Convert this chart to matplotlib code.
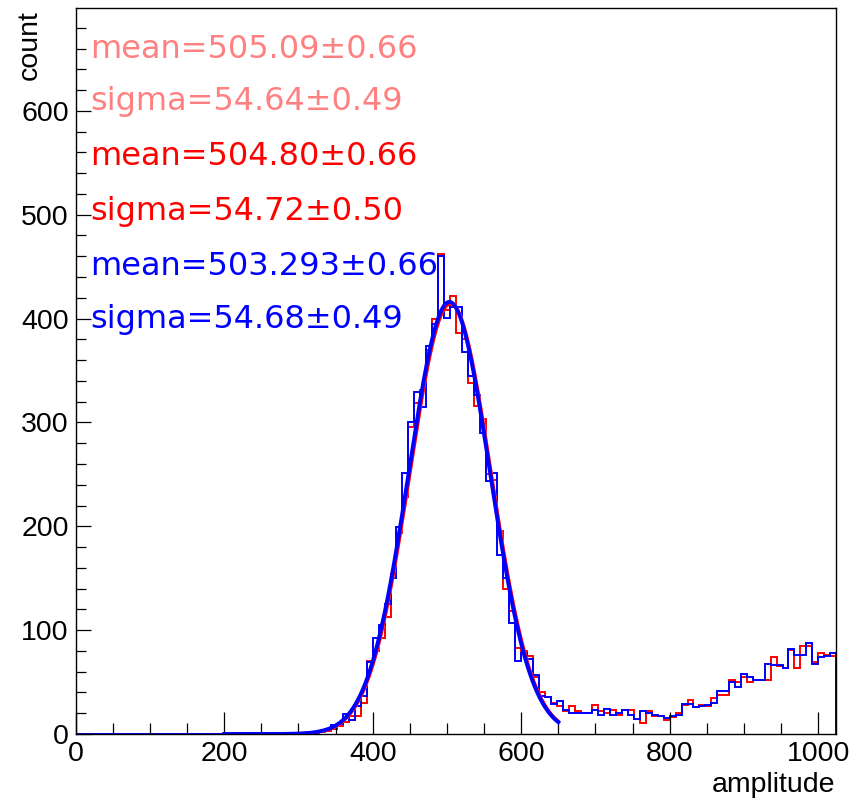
import numpy as np
import matplotlib
matplotlib.use("Agg")
import matplotlib.pyplot as plt
from matplotlib.ticker import MultipleLocator

# histogram binning: 128 bins over 0..1024
bin_edges = np.arange(0, 1025, 8)

# bin contents (bins 0..127)
red_counts = [0] * 38 + [
    0, 1, 1, 2, 3, 5, 8, 12, 17, 17,
    30, 70, 80, 92, 113, 154, 194, 228, 296, 319,
    331, 370, 400, 462, 408, 422, 386, 380, 338, 316,
    303, 250, 245, 195, 140, 118, 83, 80, 75, 55,
    40, 36, 30, 27, 22, 27, 22, 20, 20, 28,
    22, 20, 23, 18, 23, 23, 14, 11, 22, 17,
    17, 13, 16, 20, 28, 33, 26, 28, 27, 35,
    38, 38, 52, 50, 55, 50, 52, 52, 52, 74,
    65, 64, 81, 64, 85, 85, 69, 78, 76, 75]

blue_counts = [0] * 38 + [
    1, 1, 2, 3, 5, 9, 10, 19, 13, 27,
    37, 69, 92, 105, 125, 150, 199, 251, 300, 329,
    315, 374, 395, 460, 401, 411, 411, 368, 345, 326,
    290, 244, 251, 172, 150, 107, 70, 78, 72, 57,
    37, 36, 29, 32, 23, 20, 20, 20, 20, 23,
    18, 24, 18, 20, 23, 18, 14, 22, 20, 18,
    17, 15, 17, 18, 29, 29, 26, 27, 28, 30,
    41, 41, 50, 45, 58, 55, 52, 52, 67, 66,
    66, 64, 82, 76, 76, 88, 67, 74, 75, 78]

# gaussian fit results (amplitude, mean, sigma), fitted on 200..650
fit_range = (200, 650)
fit_salmon = (415, 505.09, 54.64)
fit_red = (414, 504.80, 54.72)
fit_blue = (416, 503.293, 54.68)

labels = [
    ("mean=505.09\u00b10.66", "#ff8080"),
    ("sigma=54.64\u00b10.49", "#ff8080"),
    ("mean=504.80\u00b10.66", "red"),
    ("sigma=54.72\u00b10.50", "red"),
    ("mean=503.293\u00b10.66", "blue"),
    ("sigma=54.68\u00b10.49", "blue"),
]

fig = plt.figure(figsize=(8.52, 8.0), dpi=100)
ax = fig.add_axes([75.7 / 852, 66 / 800, (836 - 75.7) / 852, (734 - 8) / 800])

ax.stairs(red_counts, bin_edges, color="red", lw=1.4)
ax.stairs(blue_counts, bin_edges, color="blue", lw=1.4)

xf = np.linspace(fit_range[0], fit_range[1], 400)
for (a, m, s), c, w in [(fit_salmon, "#ff8080", 2.2), (fit_red, "red", 2.2), (fit_blue, "blue", 2.8)]:
    ax.plot(xf, a * np.exp(-0.5 * ((xf - m) / s) ** 2), color=c, lw=w)

ax.set_xlim(0, 1024)
ax.set_ylim(0, 699)

ax.xaxis.set_major_locator(MultipleLocator(200))
ax.xaxis.set_minor_locator(MultipleLocator(50))
ax.yaxis.set_major_locator(MultipleLocator(100))
ax.yaxis.set_minor_locator(MultipleLocator(20))

tick_font = "Liberation Sans"
ax.tick_params(axis="x", which="major", direction="in", length=15.8, width=0.9, pad=5)
ax.tick_params(axis="x", which="minor", direction="in", length=7.9, width=0.9)
ax.tick_params(axis="y", which="major", direction="in", length=10.8, width=0.9, pad=5)
ax.tick_params(axis="y", which="minor", direction="in", length=7.2, width=0.9)
ax.tick_params(top=False, right=False, which="both")
for lab in ax.get_xticklabels() + ax.get_yticklabels():
    lab.set_fontfamily(tick_font)
    lab.set_fontsize(20.5)
for sp in ax.spines.values():
    sp.set_linewidth(1.0)

# stats text
y_base = [651, 601, 548, 495, 442, 391]
for (txt, col), yb in zip(labels, y_base):
    ax.text(19, yb, txt, color=col, fontsize=23, family="DejaVu Sans", va="baseline", ha="left")

fig.text(835 / 852, 8 / 800, "amplitude", ha="right", va="baseline",
         fontsize=20.5, family=tick_font)
fig.text(30 / 852, 1 - 10 / 800, "count", rotation=90, ha="center", va="top",
         fontsize=20.5, family=tick_font)

fig.savefig("out.png", dpi=100)
